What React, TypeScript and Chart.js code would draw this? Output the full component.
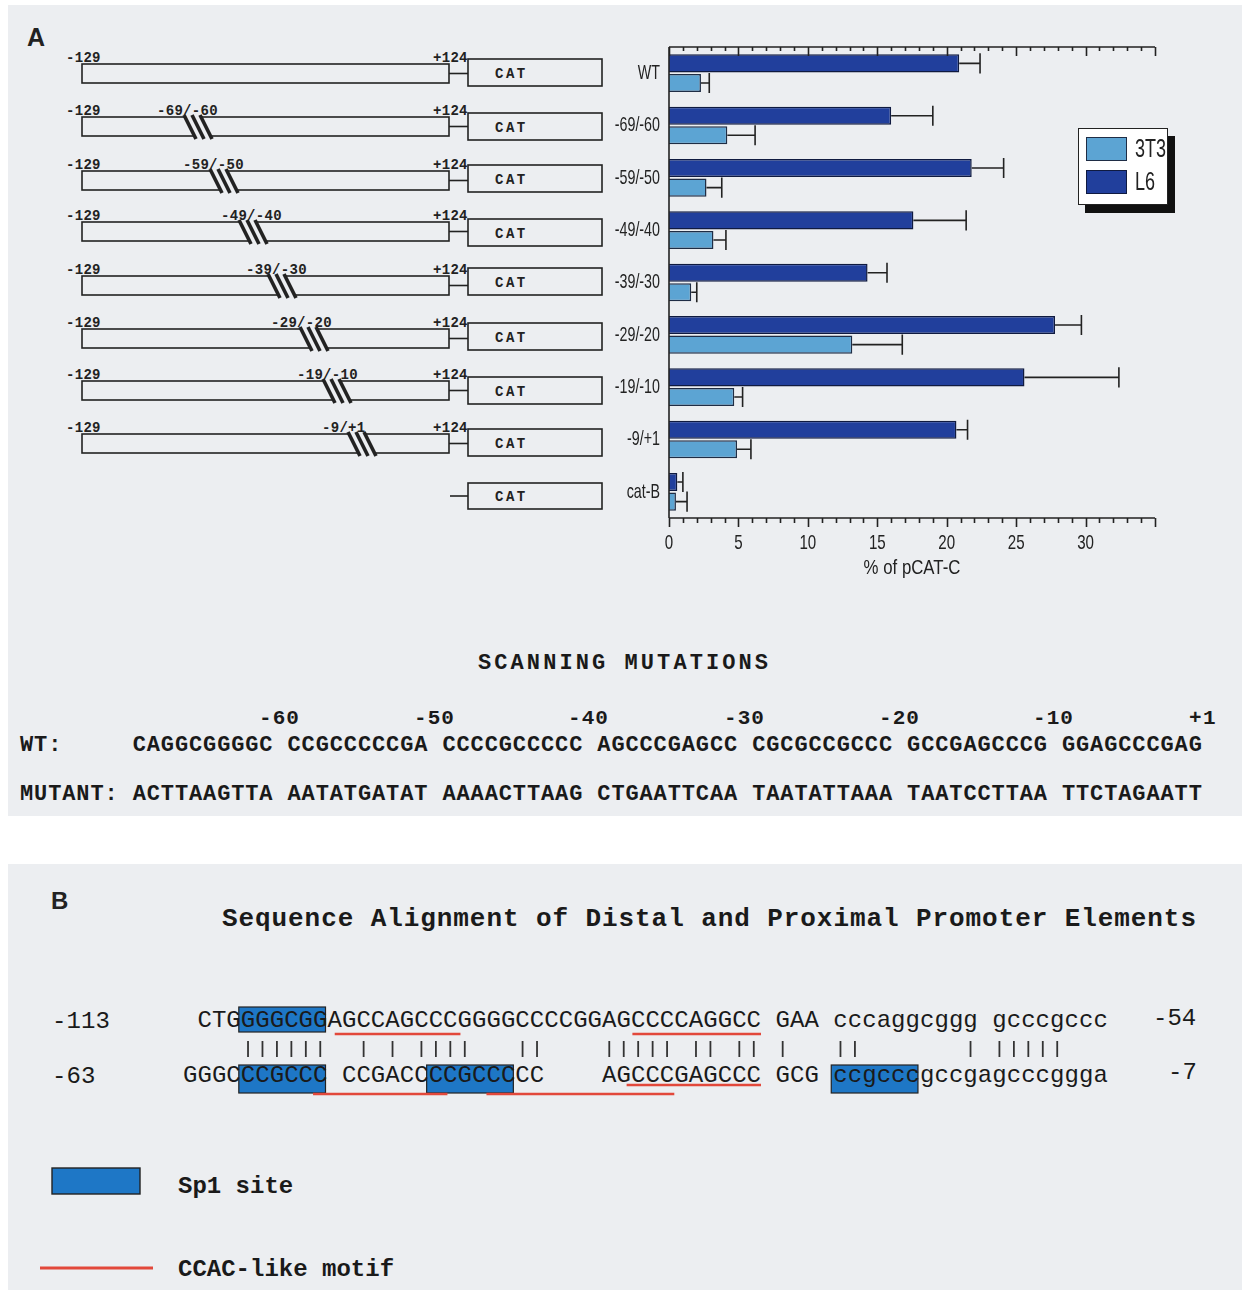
import React, { useEffect, useRef } from 'react';
import { Chart, registerables } from 'chart.js';

Chart.register(...registerables);

// ---------- data ----------
const categories = ['WT', '-69/-60', '-59/-50', '-49/-40', '-39/-30', '-29/-20', '-19/-10', '-9/+1', 'cat-B'];
const l6Values = [20.9, 16.0, 21.8, 17.6, 14.3, 27.8, 25.6, 20.7, 0.6];
const l6ErrorEnds = [22.4, 19.0, 24.1, 21.4, 15.7, 29.7, 32.4, 21.5, 1.0];
const t3Values = [2.3, 4.2, 2.7, 3.2, 1.6, 13.2, 4.7, 4.9, 0.5];
const t3ErrorEnds = [2.9, 6.2, 3.8, 4.1, 2.0, 16.8, 5.3, 5.9, 1.3];
const xTickLabels = [0, 5, 10, 15, 20, 25, 30];
const xAxisMax = 35;
const xAxisTitle = '% of pCAT-C';
const legendNames = ['3T3', 'L6'];

const mutationLabels = ['-69/-60', '-59/-50', '-49/-40', '-39/-30', '-29/-20', '-19/-10', '-9/+1'];
const positionLabels = ['-60', '-50', '-40', '-30', '-20', '-10', '+1'];
const wtSequence = 'CAGGCGGGGC CCGCCCCCGA CCCCGCCCCC AGCCCGAGCC CGCGCCGCCC GCCGAGCCCG GGAGCCCGAG';
const mutantSequence = 'ACTTAAGTTA AATATGATAT AAAACTTAAG CTGAATTCAA TAATATTAAA TAATCCTTAA TTCTAGAATT';
const distalSeq = ' CTGGGGCGGAGCCAGCCCGGGGCCCCGGAGCCCCAGGCC GAA cccaggcggg gcccgccc';
const proximalSeq = 'GGGCCCGCCC CCGACCCCGCCCCC    AGCCCGAGCCC GCG ccgcccgccgagcccggga';
const matchColumns = [4, 5, 6, 7, 8, 9, 12, 14, 16, 17, 18, 19, 23, 24, 29, 30, 31, 32, 33, 35, 36, 38, 39, 41, 45, 46, 54, 56, 57, 58, 59, 60];
const sp1Distal = [[4, 10]];
const sp1Proximal = [[4, 10], [17, 23], [45, 51]];
const ccacDistal = [[10.5, 19.2], [31.1, 40]];
const ccacProximalUpper = [[30.7, 40]];
const ccacProximalLower = [[9, 18.3], [21, 34]];

// ---------- styles / layout ----------
const SANS = "'Liberation Sans', Arial, sans-serif";
const MONO = "'Liberation Mono', 'DejaVu Sans Mono', monospace";
const BG = '#eceef1';
const L6_COLOR = '#213f9c';
const L6_BORDER = '#0f1a40';
const T3_COLOR = '#5ca4d3';
const T3_BORDER = '#1f2d45';
const SP1_COLOR = '#1e77c6';
const RED = '#e2483b';
const INK = '#222';

const boxTops = [64, 117, 171, 222, 276, 329, 381, 434];
const catTops = [59, 113, 165, 219, 268, 323, 377, 429, 483];
const hatchXs = [181, 207, 236, 265, 297, 320, 345];
const mutLabelXs = [157, 183, 221, 246, 271, 297, 322];
const posLabelXs = [259, 414, 568, 724, 879, 1033, 1189];
const PITCH_B = 14.45;
const X0_B = 183;

function condensedText(ctx: any, text: string, x: number, y: number, align: string, sx: number, size: number) {
  ctx.save();
  ctx.translate(x, y);
  ctx.scale(sx, 1);
  ctx.font = `${size}px ${SANS}`;
  ctx.fillStyle = INK;
  ctx.textAlign = align;
  ctx.textBaseline = 'middle';
  ctx.fillText(text, 0, 0);
  ctx.restore();
}

const axesPlugin = {
  id: 'axesPlugin',
  afterDraw(chart: any) {
    const { ctx, chartArea } = chart;
    const xs = chart.scales.x;
    const ys = chart.scales.y;
    ctx.save();
    ctx.strokeStyle = INK;
    ctx.lineWidth = 1.6;
    ctx.beginPath();
    ctx.moveTo(chartArea.left, chartArea.top);
    ctx.lineTo(chartArea.right, chartArea.top);
    ctx.moveTo(chartArea.left, chartArea.bottom);
    ctx.lineTo(chartArea.right, chartArea.bottom);
    ctx.moveTo(chartArea.left, chartArea.top);
    ctx.lineTo(chartArea.left, chartArea.bottom);
    for (let v = 0; v <= xAxisMax; v += 1) {
      const px = Math.round(xs.getPixelForValue(v)) + 0.5;
      const major = v % 5 === 0;
      ctx.moveTo(px, chartArea.top);
      ctx.lineTo(px, chartArea.top + (major ? 9 : 4));
      ctx.moveTo(px, chartArea.bottom);
      ctx.lineTo(px, chartArea.bottom + (major ? 9 : 5));
    }
    ctx.stroke();
    ctx.restore();

    // condensed tick labels and axis title
    categories.forEach((c, i) => {
      condensedText(ctx, c, chartArea.left - 9, ys.getPixelForValue(i), 'right', 0.68, 21);
    });
    xTickLabels.forEach((v) => {
      condensedText(ctx, String(v), xs.getPixelForValue(v), chartArea.bottom + 25, 'center', 0.72, 21);
    });
    condensedText(ctx, xAxisTitle, (chartArea.left + chartArea.right) / 2, chartArea.bottom + 50, 'center', 0.8, 21);
  },
};

const errorBarPlugin = {
  id: 'errorBarPlugin',
  afterDatasetsDraw(chart: any) {
    const { ctx } = chart;
    const xs = chart.scales.x;
    ctx.save();
    ctx.strokeStyle = INK;
    ctx.lineWidth = 1.6;
    chart.data.datasets.forEach((ds: any, i: number) => {
      const meta = chart.getDatasetMeta(i);
      meta.data.forEach((el: any, j: number) => {
        const end = xs.getPixelForValue(ds.errorEnds[j]);
        const h = el.height / 2 + 1;
        ctx.beginPath();
        ctx.moveTo(el.x, el.y);
        ctx.lineTo(end, el.y);
        ctx.moveTo(end, el.y - h);
        ctx.lineTo(end, el.y + h);
        ctx.stroke();
      });
    });
    ctx.restore();
  },
};

function BarChart() {
  const ref = useRef<HTMLCanvasElement>(null);
  useEffect(() => {
    if (!ref.current) return;
    const chart = new Chart(ref.current, {
      type: 'bar',
      data: {
        labels: categories,
        datasets: [
          {
            label: 'L6',
            data: l6Values,
            errorEnds: l6ErrorEnds,
            backgroundColor: L6_COLOR,
            borderColor: L6_BORDER,
            borderWidth: 1.5,
            categoryPercentage: 0.75,
            barPercentage: 0.92,
          } as any,
          {
            label: '3T3',
            data: t3Values,
            errorEnds: t3ErrorEnds,
            backgroundColor: T3_COLOR,
            borderColor: T3_BORDER,
            borderWidth: 1.5,
            categoryPercentage: 0.75,
            barPercentage: 0.92,
          } as any,
        ],
      },
      options: {
        animation: false,
        responsive: false,
        indexAxis: 'y',
        layout: { padding: { top: 17, right: 45, left: 0, bottom: 0 } },
        plugins: { legend: { display: false }, tooltip: { enabled: false } },
        scales: {
          x: {
            min: 0,
            max: xAxisMax,
            grid: { display: false, drawTicks: false },
            border: { display: false },
            ticks: { display: false, stepSize: 5 },
            afterFit: (s: any) => {
              s.height = 72;
            },
          },
          y: {
            grid: { display: false, drawTicks: false },
            border: { display: false },
            ticks: { display: false },
            afterFit: (s: any) => {
              s.width = 69;
            },
          },
        },
      } as any,
      plugins: [axesPlugin, errorBarPlugin],
    });
    return () => chart.destroy();
  }, []);
  return (
    <canvas
      ref={ref}
      width={600}
      height={560}
      style={{ position: 'absolute', left: 600, top: 30, width: 600, height: 560 }}
    />
  );
}

function Hatch({ hx, top, bottom }: { hx: number; top: number; bottom: number }) {
  const pts = `${hx + 3},${top - 2} ${hx + 19},${top - 2} ${hx + 31},${bottom + 2} ${hx + 15},${bottom + 2}`;
  return (
    <g>
      <polygon points={pts} fill={BG} />
      {[0, 1, 2].map((k) => (
        <line
          key={k}
          x1={hx + 3 + 8 * k}
          y1={top - 2}
          x2={hx + 15 + 8 * k}
          y2={bottom + 3}
          stroke={INK}
          strokeWidth={3.6}
        />
      ))}
    </g>
  );
}

function Diagram() {
  const smallText = { fontFamily: MONO, fontSize: 14, fontWeight: 700, fill: INK, letterSpacing: 0.3 } as any;
  const seqA = { fontFamily: MONO, fontSize: 22, fontWeight: 700, fill: '#1a1a1a' } as any;
  const seqB = { fontFamily: MONO, fontSize: 24, fill: '#1a1a1a' } as any;
  const boldB = { fontFamily: MONO, fontSize: 24, fontWeight: 700, fill: '#1a1a1a' } as any;
  const colX = (c: number) => X0_B + c * PITCH_B;
  return (
    <svg width={1242} height={1290} style={{ position: 'absolute', left: 0, top: 0 }}>
      <rect x={0} y={0} width={1242} height={1290} fill="#ffffff" />
      <rect x={8} y={5} width={1234} height={811} fill={BG} />
      <rect x={8} y={864} width={1234} height={426} fill={BG} />

      {/* Panel A label */}
      <text x={27} y={46} fontFamily={SANS} fontSize={25} fontWeight={700} fill={INK}>
        A
      </text>

      {/* constructs */}
      {boxTops.map((top, r) => {
        const bottom = top + 19;
        const mid = top + 9.5;
        const ct = catTops[r];
        return (
          <g key={r}>
            <rect x={82} y={top} width={367} height={19} fill="none" stroke={INK} strokeWidth={1.6} />
            <line x1={449} y1={mid} x2={468} y2={mid} stroke={INK} strokeWidth={1.6} />
            <rect x={468} y={ct} width={134} height={27} fill="none" stroke={INK} strokeWidth={1.6} />
            <text x={495} y={ct + 19} {...smallText} letterSpacing={2.5}>
              CAT
            </text>
            <text x={66} y={top - 2} {...smallText}>
              -129
            </text>
            <text x={433} y={top - 2} {...smallText}>
              +124
            </text>
            {r > 0 && <Hatch hx={hatchXs[r - 1]} top={top} bottom={bottom} />}
            {r > 0 && (
              <text x={mutLabelXs[r - 1]} y={top - 2} {...smallText}>
                {mutationLabels[r - 1]}
              </text>
            )}
          </g>
        );
      })}
      <g>
        <line x1={450} y1={496} x2={468} y2={496} stroke={INK} strokeWidth={1.6} />
        <rect x={468} y={catTops[8]} width={134} height={26} fill="none" stroke={INK} strokeWidth={1.6} />
        <text x={495} y={catTops[8] + 18} {...smallText} letterSpacing={2.5}>
          CAT
        </text>
      </g>

      {/* scanning mutations */}
      <text x={478} y={669} {...seqA} textLength={290} lengthAdjust="spacing">
        SCANNING MUTATIONS
      </text>
      {positionLabels.map((p, i) => (
        <text key={p} x={posLabelXs[i]} y={724} {...seqA} fontSize={21} textLength={p.length * 13.3} lengthAdjust="spacing">
          {p}
        </text>
      ))}
      <text x={20} y={751} {...seqA} textLength={84 * 14.07} lengthAdjust="spacing" style={{ whiteSpace: 'pre' }} xmlSpace="preserve">
        {'WT:     ' + wtSequence}
      </text>
      <text x={20} y={800} {...seqA} textLength={84 * 14.07} lengthAdjust="spacing" style={{ whiteSpace: 'pre' }} xmlSpace="preserve">
        {'MUTANT: ' + mutantSequence}
      </text>

      {/* Panel B */}
      <text x={51} y={909} fontFamily={SANS} fontSize={24} fontWeight={700} fill={INK}>
        B
      </text>
      <text x={222} y={926} {...boldB} fontSize={26} textLength={974} lengthAdjust="spacing">
        Sequence Alignment of Distal and Proximal Promoter Elements
      </text>

      {sp1Distal.map(([a, b], i) => (
        <rect key={'d' + i} x={colX(a) - 2} y={1007} width={(b - a) * PITCH_B} height={25} fill={SP1_COLOR} stroke={INK} strokeWidth={1.2} />
      ))}
      {sp1Proximal.map(([a, b], i) => (
        <rect key={'p' + i} x={colX(a) - 2} y={1065} width={(b - a) * PITCH_B} height={28} fill={SP1_COLOR} stroke={INK} strokeWidth={1.2} />
      ))}

      <text x={52} y={1028} {...seqB} textLength={4 * PITCH_B} lengthAdjust="spacing">
        -113
      </text>
      <text x={X0_B} y={1027} {...seqB} textLength={distalSeq.length * PITCH_B} lengthAdjust="spacing" style={{ whiteSpace: 'pre' }} xmlSpace="preserve">
        {distalSeq}
      </text>
      <text x={1153} y={1025} {...seqB}>
        -54
      </text>

      {matchColumns.map((c) => (
        <line key={c} x1={colX(c + 0.5)} y1={1041} x2={colX(c + 0.5)} y2={1057} stroke="#333" strokeWidth={1.8} />
      ))}

      <text x={52} y={1083} {...seqB} textLength={3 * PITCH_B} lengthAdjust="spacing">
        -63
      </text>
      <text x={X0_B} y={1082} {...seqB} textLength={proximalSeq.length * PITCH_B} lengthAdjust="spacing" style={{ whiteSpace: 'pre' }} xmlSpace="preserve">
        {proximalSeq}
      </text>
      <text x={1168} y={1079} {...seqB}>
        -7
      </text>

      {ccacDistal.map(([a, b], i) => (
        <line key={'cd' + i} x1={colX(a)} y1={1034} x2={colX(b)} y2={1034} stroke={RED} strokeWidth={2.6} />
      ))}
      {ccacProximalUpper.map(([a, b], i) => (
        <line key={'cu' + i} x1={colX(a)} y1={1085} x2={colX(b)} y2={1085} stroke={RED} strokeWidth={2.6} />
      ))}
      {ccacProximalLower.map(([a, b], i) => (
        <line key={'cl' + i} x1={colX(a)} y1={1094} x2={colX(b)} y2={1094} stroke={RED} strokeWidth={2.6} />
      ))}

      {/* Panel B legend */}
      <rect x={52} y={1168} width={88} height={26} fill={SP1_COLOR} stroke={INK} strokeWidth={1.4} />
      <text x={178} y={1193} {...boldB}>
        Sp1 site
      </text>
      <line x1={40} y1={1268} x2={153} y2={1268} stroke={RED} strokeWidth={3} />
      <text x={178} y={1276} {...boldB}>
        CCAC-like motif
      </text>
    </svg>
  );
}

function Legend() {
  const colors = [
    { fill: T3_COLOR, border: T3_BORDER },
    { fill: L6_COLOR, border: L6_BORDER },
  ];
  return (
    <div
      style={{
        position: 'absolute',
        left: 1078,
        top: 128,
        width: 90,
        height: 77,
        background: '#fff',
        border: '1.5px solid #222',
        boxShadow: '7px 8px 0 #111',
        boxSizing: 'border-box',
      }}
    >
      {legendNames.map((n, i) => (
        <div key={n} style={{ position: 'absolute', left: 7, top: 7 + i * 33, height: 25, display: 'flex', alignItems: 'center' }}>
          <div
            style={{
              width: 41,
              height: 24,
              background: colors[i].fill,
              border: `1.5px solid ${colors[i].border}`,
              boxSizing: 'border-box',
            }}
          />
          <span
            style={{
              marginLeft: 8,
              fontFamily: SANS,
              fontSize: 25,
              color: INK,
              lineHeight: '25px',
              display: 'inline-block',
              transform: 'scaleX(0.72)',
              transformOrigin: 'left center',
            }}
          >
            {n}
          </span>
        </div>
      ))}
    </div>
  );
}

export default function App() {
  return (
    <div style={{ position: 'absolute', left: 0, top: 0, width: 1242, height: 1290, overflow: 'hidden', background: '#fff' }}>
      <Diagram />
      <BarChart />
      <Legend />
    </div>
  );
}
